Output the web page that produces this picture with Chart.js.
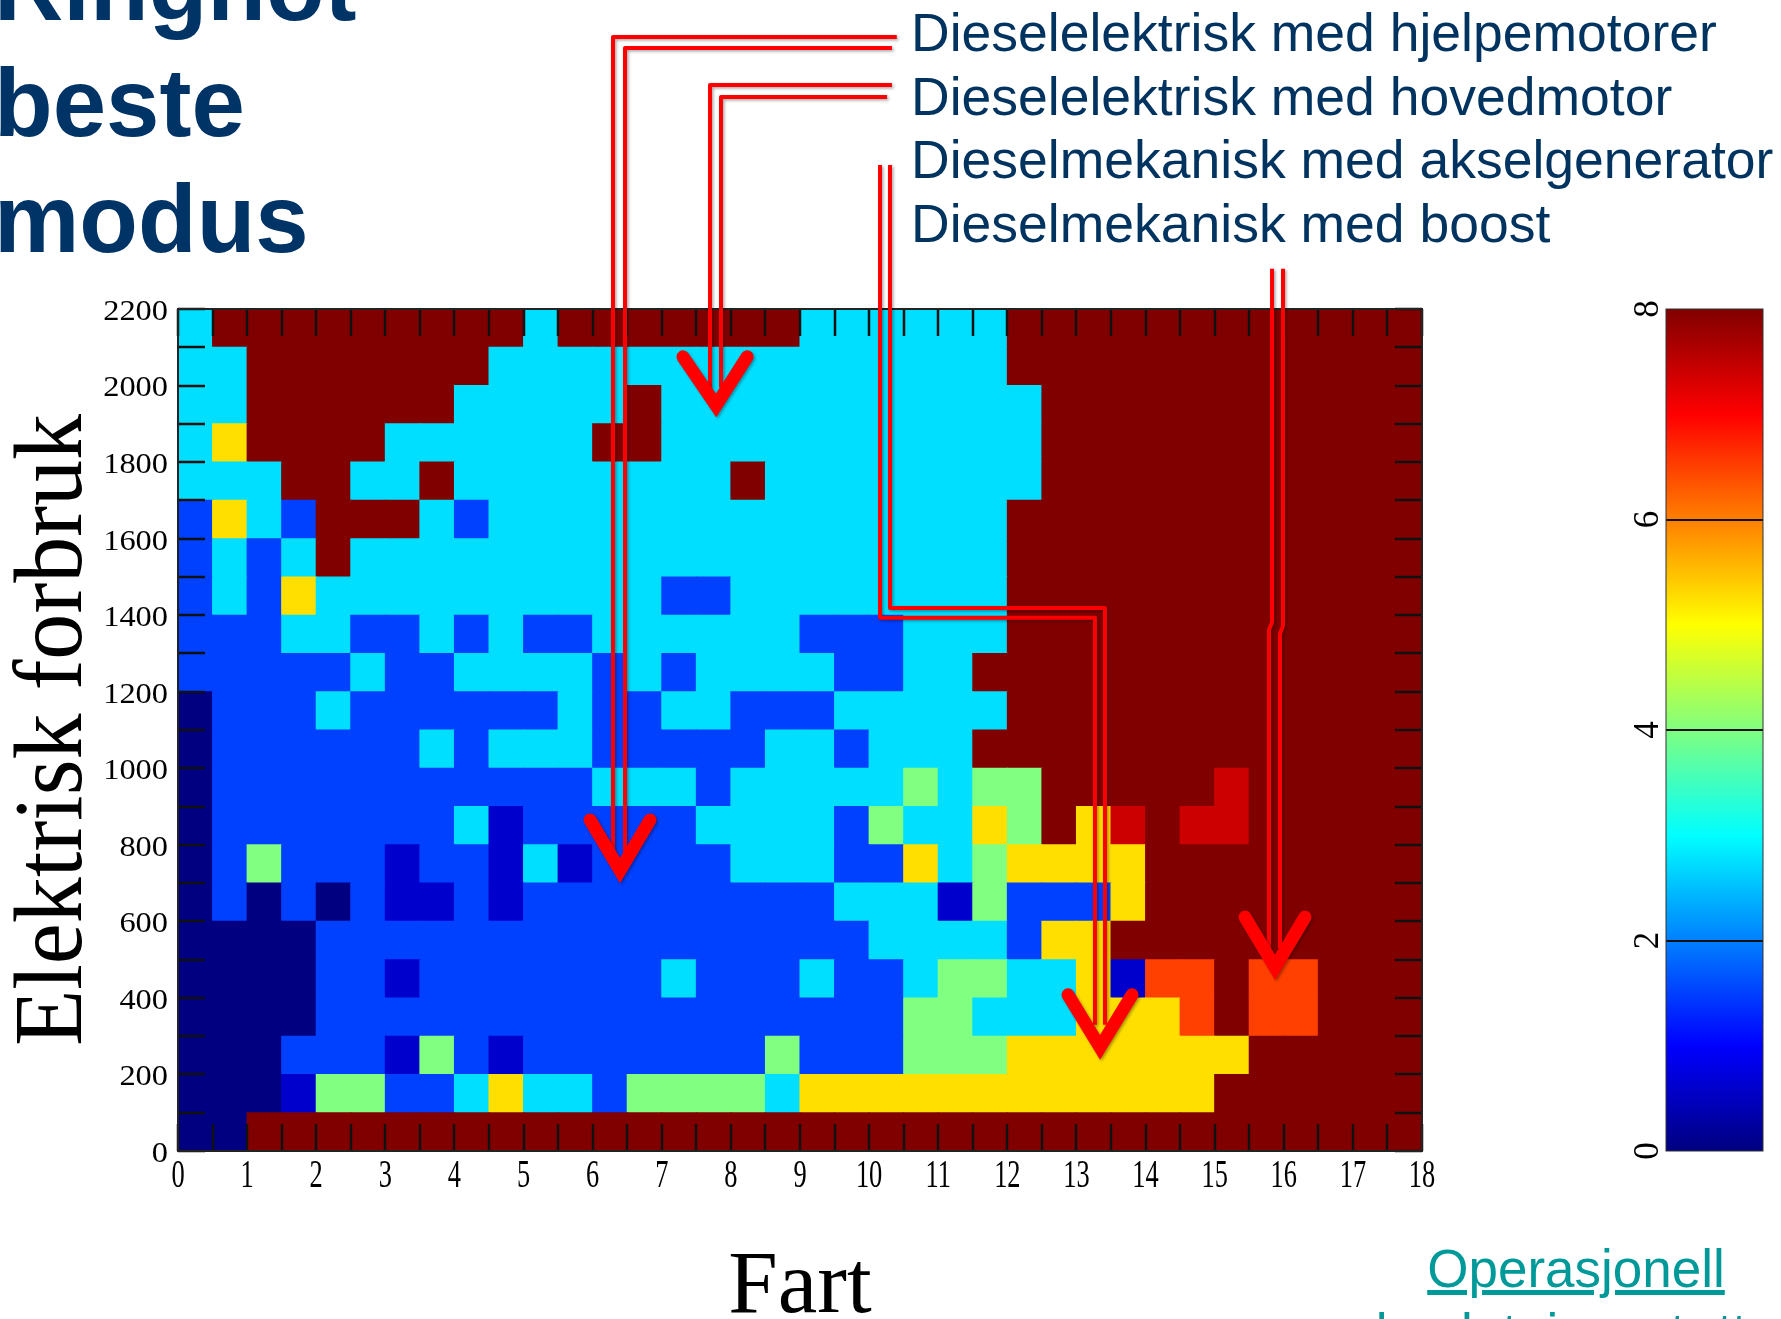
<!DOCTYPE html>
<html>
<head>
<meta charset="utf-8">
<title>Beste modus</title>
<script src="https://cdn.jsdelivr.net/npm/chart.js@4.4.1/dist/chart.umd.min.js"></script>
<style>
  html, body { margin: 0; padding: 0; background: #fff; }
  body { width: 1781px; height: 1319px; position: relative; overflow: hidden; }
  canvas { position: absolute; left: 0; top: 0; }
  .title {
    position: absolute; left: -6px; top: -71px;
    font: bold 96px/116px "Liberation Sans", Arial, sans-serif;
    color: #003366;
  }
  .modes {
    position: absolute; left: 911px; top: 1px; white-space: nowrap;
    font: 53.5px/63.5px "Liberation Sans", Arial, sans-serif;
    color: #00335f;
  }
  .link {
    position: absolute; left: 1360px; width: 432px; top: 1237px; text-align: center;
    font: 53px/64px "Liberation Sans", Arial, sans-serif;
    color: #009999; text-decoration: underline;
  }
</style>
</head>
<body>
<div class="title">Ringhot<br>beste<br>modus</div>
<div class="modes">
  Dieselelektrisk med hjelpemotorer<br>
  Dieselelektrisk med hovedmotor<br>
  Dieselmekanisk med akselgenerator<br>
  Dieselmekanisk med boost
</div>
<div class="link">Operasjonell<br>beslutningsstøtte</div>
<canvas id="heat" width="1781" height="1319"></canvas>
<canvas id="cbar" width="1781" height="1319"></canvas>
<script>
// Fart (x) and Elektrisk forbruk (y) bins
const speedMin = 0, speedMax = 18, speedStep = 0.5;
const powerMin = 0, powerMax = 2200, powerStep = 100;
const xTickLabels = [0, 1, 2, 3, 4, 5, 6, 7, 8, 9, 10, 11, 12, 13, 14, 15, 16, 17, 18];
const yTickLabels = [0, 200, 400, 600, 800, 1000, 1200, 1400, 1600, 1800, 2000, 2200];

// colour scale 0..8
const cbMin = 0, cbMax = 8;
const cbTickLabels = [0, 2, 4, 6, 8];
const cbStops = [0, 1, 3, 5, 7, 8];

// value of each colour code
const modeValue = { N: 0, D: 0.6, B: 1.5, C: 2.75, G: 4, Y: 5.25, O: 6.5, R: 7.4, M: 8 };

// one string per power bin, top row (2100-2200) first, 36 speed bins each
const modeGrid = [
  'CMMMMMMMMMCM' + 'MMMMMMCCCCCC' + 'MMMMMMMMMMMM',
  'CCMMMMMMMCCC' + 'CCCCCCCCCCCC' + 'MMMMMMMMMMMM',
  'CCMMMMMMCCCC' + 'CMCCCCCCCCCC' + 'CMMMMMMMMMMM',
  'CYMMMMCCCCCC' + 'MMCCCCCCCCCC' + 'CMMMMMMMMMMM',
  'CCCMMCCMCCCC' + 'CCCCMCCCCCCC' + 'CMMMMMMMMMMM',
  'BYCBMMMCBCCC' + 'CCCCCCCCCCCC' + 'MMMMMMMMMMMM',
  'BCBCMCCCCCCC' + 'CCCCCCCCCCCC' + 'MMMMMMMMMMMM',
  'BCBYCCCCCCCC' + 'CCBBCCCCCCCC' + 'MMMMMMMMMMMM',
  'BBBCCBBCBCBB' + 'CCCCCCBBBCCC' + 'MMMMMMMMMMMM',
  'BBBBBCBBCCCC' + 'BCBCCCCBBCCM' + 'MMMMMMMMMMMM',
  'NBBBCBBBBBBC' + 'BBCCBBBCCCCC' + 'MMMMMMMMMMMM',
  'NBBBBBBCBCCC' + 'BBBBBCCBCCCM' + 'MMMMMMMMMMMM',
  'NBBBBBBBBBBB' + 'CCCBCCCCCGCG' + 'GMMMMMRMMMMM',
  'NBBBBBBBCDBB' + 'BBBCCCCBGCCY' + 'GMYRMRRMMMMM',
  'NBGBBBDBBDCD' + 'BBBBCCCBBYCG' + 'YYYYMMMMMMMM',
  'NBNBNBDDBDBB' + 'BBBBBBBCCCDG' + 'BBBYMMMMMMMM',
  'NNNNBBBBBBBB' + 'BBBBBBBBCCCC' + 'BYYMMMMMMMMM',
  'NNNNBBDBBBBB' + 'BBCBBBCBBCGG' + 'CCYDOOMOOMMM',
  'NNNNBBBBBBBB' + 'BBBBBBBBBGGC' + 'CCYYYOMOOMMM',
  'NNNBBBDGBDBB' + 'BBBBBGBBBGGG' + 'YYYYYYYMMMMM',
  'NNNDGGBBCYCC' + 'BGGGGCYYYYYY' + 'YYYYYYMMMMMM',
  'NNMMMMMMMMMM' + 'MMMMMMMMMMMM' + 'MMMMMMMMMMMM'
];

// red arrows, in chart units (Fart, Elektrisk forbruk)
const arrows = [
  { // Dieselelektrisk med hjelpemotorer
    lines: [[[10.40, 2911], [6.294, 2911], [6.294, 770]],
            [[10.33, 2882], [6.468, 2882], [6.468, 770]]],
    head: [[5.962, 865], [6.396, 733], [6.830, 865]]
  },
  { // Dieselelektrisk med hovedmotor
    lines: [[[10.33, 2785], [7.698, 2785], [7.698, 1995]],
            [[10.26, 2754], [7.857, 2754], [7.857, 1995]]],
    head: [[7.307, 2075], [7.785, 1948], [8.235, 2075]]
  },
  { // Dieselmekanisk med akselgenerator
    lines: [[[10.158, 2576], [10.158, 1393], [13.268, 1393], [13.268, 330]],
            [[10.302, 2576], [10.302, 1419], [13.413, 1419], [13.413, 330]]],
    head: [[12.878, 408], [13.341, 271], [13.804, 408]]
  },
  { // Dieselmekanisk med boost
    lines: [[[15.830, 2305], [15.830, 1382], [15.786, 1361], [15.786, 530]],
            [[15.989, 2305], [15.989, 1372], [15.945, 1351], [15.945, 530]]],
    head: [[15.439, 611], [15.873, 480], [16.307, 611]]
  }
];

function jet(v) {
  const t = Math.min(1, Math.max(0, (v - cbMin) / (cbMax - cbMin)));
  const ch = k => Math.round(255 * Math.min(1, Math.max(0, 1.5 - Math.abs(4 * t - k))));
  return 'rgb(' + ch(3) + ',' + ch(2) + ',' + ch(1) + ')';
}

const nCols = (speedMax - speedMin) / speedStep;
const speedCentres = Array.from({ length: nCols }, (_, i) => speedMin + speedStep * (i + 0.5));

const datasets = modeGrid.slice().reverse().map((row, r) => ({
  label: (powerMin + r * powerStep) + '-' + (powerMin + (r + 1) * powerStep),
  data: speedCentres.map(x => ({ x: x, y: powerStep })),
  backgroundColor: row.split('').map(code => jet(modeValue[code]))
}));

const serif = '"Liberation Serif", "Times New Roman", serif';

// axes take no room: the plot box is set by the layout padding alone
function noRoom(scale) {
  if (scale.isHorizontal()) scale.height = 0; else scale.width = 0;
}

const heatDecor = {
  id: 'heatDecor',
  afterDraw(chart) {
    const ctx = chart.ctx;
    const a = chart.chartArea;
    const xs = chart.scales.x, ys = chart.scales.y;
    const tickLen = 27;

    ctx.save();
    // inward tick marks on all four sides
    ctx.strokeStyle = '#111';
    ctx.lineWidth = 2.5;
    ctx.beginPath();
    xs.ticks.forEach(t => {
      const px = Math.round(xs.getPixelForValue(t.value));
      ctx.moveTo(px, a.bottom); ctx.lineTo(px, a.bottom - tickLen);
      ctx.moveTo(px, a.top); ctx.lineTo(px, a.top + tickLen);
    });
    ys.ticks.forEach(t => {
      const py = Math.round(ys.getPixelForValue(t.value));
      ctx.moveTo(a.left, py); ctx.lineTo(a.left + tickLen, py);
      ctx.moveTo(a.right, py); ctx.lineTo(a.right - tickLen, py);
    });
    ctx.stroke();

    // frame
    ctx.lineWidth = 2;
    ctx.strokeStyle = '#222';
    ctx.strokeRect(a.left, a.top, a.right - a.left, a.bottom - a.top);

    // tick labels
    ctx.fillStyle = '#000';
    ctx.font = '40px ' + serif;
    ctx.textAlign = 'center';
    ctx.textBaseline = 'alphabetic';
    xTickLabels.forEach(v => {
      ctx.save();
      ctx.translate(xs.getPixelForValue(v), a.bottom + 36);
      ctx.scale(0.66, 1);
      ctx.fillText(String(v), 0, 0);
      ctx.restore();
    });
    ctx.font = '30px ' + serif;
    ctx.textAlign = 'right';
    ctx.textBaseline = 'middle';
    yTickLabels.forEach(v => {
      ctx.save();
      ctx.translate(a.left - 10, ys.getPixelForValue(v) + 3);
      ctx.scale(1.08, 1);
      ctx.fillText(String(v), 0, 0);
      ctx.restore();
    });

    // axis titles
    ctx.textAlign = 'center';
    ctx.textBaseline = 'alphabetic';
    ctx.font = '89px ' + serif;
    ctx.fillText('Fart', (a.left + a.right) / 2, a.bottom + 161);
    ctx.save();
    ctx.translate(a.left - 97, (a.top + a.bottom) / 2);
    ctx.rotate(-Math.PI / 2);
    ctx.scale(0.95, 1);
    ctx.font = '97px ' + serif;
    ctx.fillText('Elektrisk forbruk', 0, 0);
    ctx.restore();

    // red arrows
    ctx.shadowColor = 'rgba(0,0,0,0.35)';
    ctx.shadowBlur = 3;
    ctx.shadowOffsetX = 1.5;
    ctx.shadowOffsetY = 1.5;
    ctx.strokeStyle = '#ff0000';
    arrows.forEach(arr => {
      ctx.lineWidth = 4;
      ctx.lineJoin = 'round';
      ctx.lineCap = 'butt';
      arr.lines.forEach(line => {
        ctx.beginPath();
        line.forEach((p, i) => {
          const px = xs.getPixelForValue(p[0]), py = ys.getPixelForValue(p[1]);
          if (i === 0) ctx.moveTo(px, py); else ctx.lineTo(px, py);
        });
        ctx.stroke();
      });
      ctx.lineWidth = 13;
      ctx.lineCap = 'round';
      ctx.lineJoin = 'miter';
      ctx.beginPath();
      arr.head.forEach((p, i) => {
        const px = xs.getPixelForValue(p[0]), py = ys.getPixelForValue(p[1]);
        if (i === 0) ctx.moveTo(px, py); else ctx.lineTo(px, py);
      });
      ctx.stroke();
    });
    ctx.restore();
  }
};

new Chart(document.getElementById('heat'), {
  type: 'bar',
  data: { datasets: datasets },
  options: {
    responsive: false,
    animation: false,
    events: [],
    layout: { padding: { left: 178, right: 359, top: 309, bottom: 168 } },
    plugins: { legend: { display: false }, tooltip: { enabled: false } },
    datasets: {
      bar: { categoryPercentage: 1, barPercentage: 1, borderWidth: 0, inflateAmount: 0.5 }
    },
    scales: {
      x: {
        type: 'linear', min: speedMin, max: speedMax, offset: false, stacked: true,
        ticks: { stepSize: speedStep, display: false },
        grid: { display: false }, border: { display: false },
        afterFit: noRoom
      },
      y: {
        type: 'linear', min: powerMin, max: powerMax, stacked: true,
        ticks: { stepSize: powerStep, display: false },
        grid: { display: false }, border: { display: false },
        afterFit: noRoom
      }
    }
  },
  plugins: [heatDecor]
});

// colour bar
const cbarDecor = {
  id: 'cbarDecor',
  afterDraw(chart) {
    const ctx = chart.ctx;
    const a = chart.chartArea;
    const ys = chart.scales.y;
    ctx.save();
    ctx.strokeStyle = '#111';
    ctx.lineWidth = 2;
    ctx.beginPath();
    cbTickLabels.forEach(v => {
      if (v === cbMin || v === cbMax) return;
      const py = Math.round(ys.getPixelForValue(v));
      ctx.moveTo(a.left, py); ctx.lineTo(a.right, py);
    });
    ctx.stroke();
    ctx.lineWidth = 1;
    ctx.strokeStyle = '#333';
    ctx.strokeRect(a.left, a.top, a.right - a.left, a.bottom - a.top);

    ctx.fillStyle = '#000';
    ctx.font = '35px ' + serif;
    ctx.textAlign = 'center';
    ctx.textBaseline = 'alphabetic';
    cbTickLabels.forEach(v => {
      ctx.save();
      ctx.translate(a.left - 8, ys.getPixelForValue(v));
      ctx.rotate(-Math.PI / 2);
      ctx.fillText(String(v), 0, 0);
      ctx.restore();
    });
    ctx.restore();
  }
};

new Chart(document.getElementById('cbar'), {
  type: 'bar',
  data: {
    labels: ['modus'],
    datasets: [{
      data: [[cbMin, cbMax]],
      backgroundColor: c => {
        const area = c.chart.chartArea;
        if (!area) return jet(cbMin);
        const ys = c.chart.scales.y;
        const g = c.chart.ctx.createLinearGradient(0, ys.getPixelForValue(cbMin), 0, ys.getPixelForValue(cbMax));
        cbStops.forEach(v => g.addColorStop((v - cbMin) / (cbMax - cbMin), jet(v)));
        return g;
      },
      borderWidth: 0
    }]
  },
  options: {
    responsive: false,
    animation: false,
    events: [],
    layout: { padding: { left: 1666, right: 18, top: 309, bottom: 168 } },
    plugins: { legend: { display: false }, tooltip: { enabled: false } },
    datasets: { bar: { categoryPercentage: 1, barPercentage: 1 } },
    scales: {
      x: {
        ticks: { display: false }, grid: { display: false }, border: { display: false },
        afterFit: noRoom
      },
      y: {
        min: cbMin, max: cbMax,
        ticks: { display: false, stepSize: 2 },
        grid: { display: false }, border: { display: false },
        afterFit: noRoom
      }
    }
  },
  plugins: [cbarDecor]
});
</script>
</body>
</html>
